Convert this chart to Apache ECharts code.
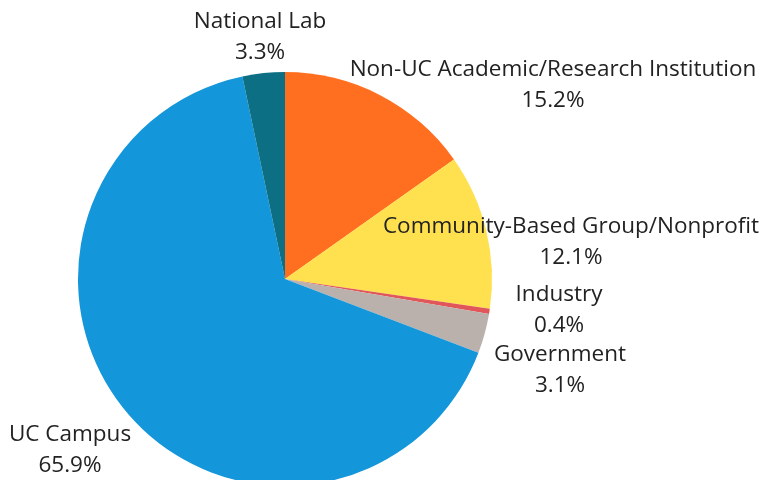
<!DOCTYPE html>
<html>
<head>
<meta charset="utf-8">
<script src="https://cdn.jsdelivr.net/npm/echarts@6/dist/echarts.min.js"></script>
<style>
  html, body { margin: 0; padding: 0; background: #fff; }
  #chart { width: 763px; height: 480px; }
</style>
</head>
<body>
<div id="chart"></div>
<script>
// slices, clockwise from 12 o'clock
const categories = ['Non-UC Academic/Research Institution', 'Community-Based Group/Nonprofit', 'Industry', 'Government', 'UC Campus', 'National Lab']
const shares = [15.2, 12.1, 0.4, 3.1, 65.9, 3.3]
const colors = ['#ff6f1f', '#ffe14f', '#e15759', '#bab0ac', '#1496da', '#0c6f84']

// where each label sits (center of the text block)
const labelSpots = [
  [553, 85], [571, 242], [559, 310], [560, 370], [70, 450], [260, 37]
]

const chart = echarts.init(document.getElementById('chart'))

chart.setOption({
  animation: false,
  series: [{
    type: 'pie',
    center: [285, 279],
    radius: [0, 207],
    startAngle: 90,
    clockwise: true,
    avoidLabelOverlap: false,
    data: categories.map((c, i) => ({
      name: c,
      value: shares[i],
      itemStyle: { color: colors[i] }
    })),
    itemStyle: { borderWidth: 0 },
    label: {
      show: true,
      position: 'outside',
      formatter: p => p.name + '\n' + p.value.toFixed(1) + '%',
      fontFamily: 'Open Sans',
      fontSize: 22.5,
      lineHeight: 31,
      color: '#222',
      align: 'center'
    },
    labelLine: { show: false },
    labelLayout: function (params) {
      const s = labelSpots[params.dataIndex]
      return { x: s[0], y: s[1], align: 'center', verticalAlign: 'middle' }
    }
  }]
})
</script>
</body>
</html>
